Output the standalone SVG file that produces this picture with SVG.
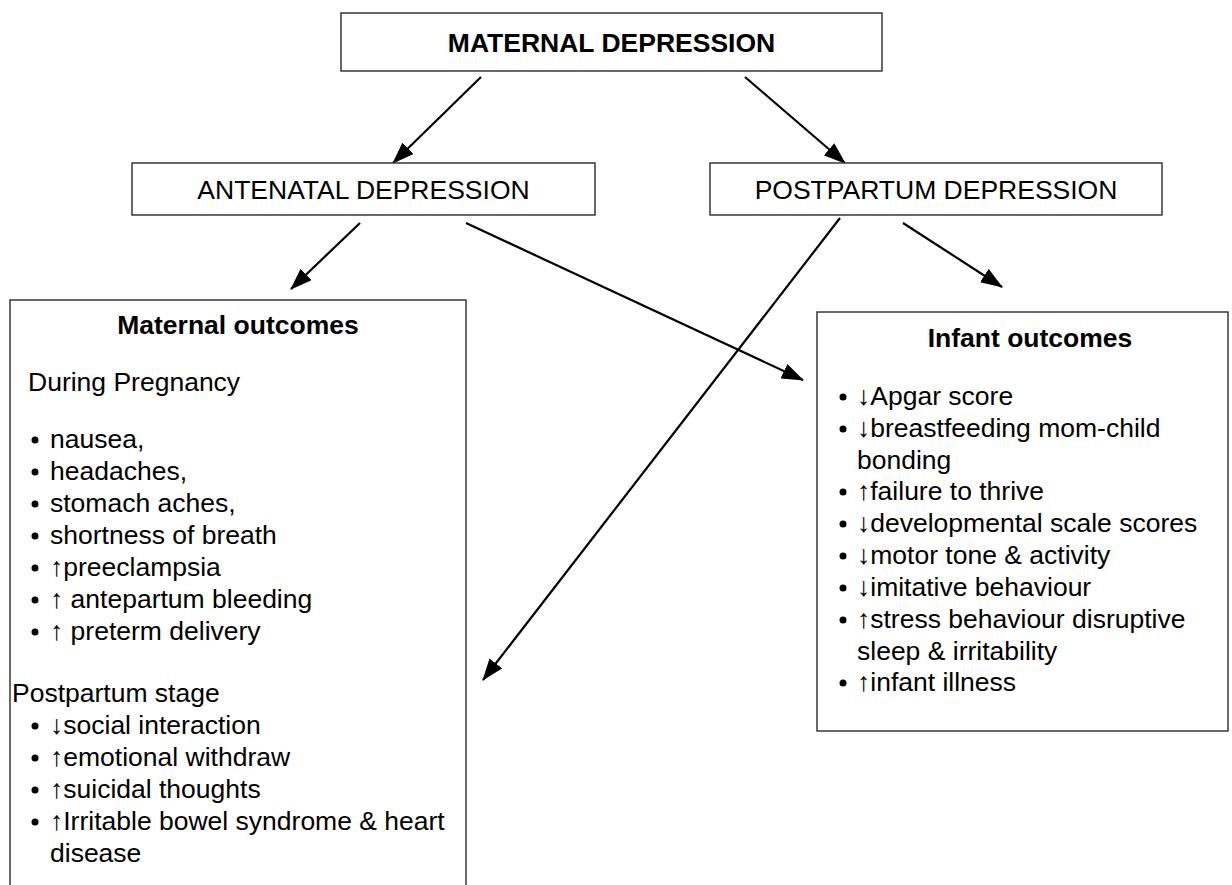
<svg xmlns="http://www.w3.org/2000/svg" width="1232" height="885" viewBox="0 0 1232 885">
  <defs>
    <marker id="arrowhead" markerUnits="userSpaceOnUse" markerWidth="22" markerHeight="16" viewBox="0 0 22 16" refX="21" refY="8" orient="auto">
      <path d="M0,0 L22,8 L0,16 z" fill="#000"/>
    </marker>
    <style>
      .box { fill: #fff; stroke: #2a2a2a; stroke-width: 1.4; }
      .link { fill: none; stroke: #000; stroke-width: 2.2; marker-end: url(#arrowhead); }
      text { font-family: "Liberation Sans", Arial, sans-serif; font-size: 26.5px; fill: #000; }
      .title { font-weight: bold; text-anchor: middle; }
      .mid { text-anchor: middle; }
      .dot { fill: #000; }
    </style>
  </defs>

  <rect width="1232" height="885" fill="#fff"/>

  <!-- connectors -->
  <g id="connectors">
    <line class="link" x1="481" y1="77" x2="393" y2="163"/>
    <line class="link" x1="745" y1="77" x2="845" y2="163"/>
    <line class="link" x1="360" y1="223" x2="291" y2="289"/>
    <line class="link" x1="466" y1="223" x2="803" y2="380"/>
    <line class="link" x1="840" y1="218" x2="483" y2="680"/>
    <line class="link" x1="903" y1="223" x2="1002" y2="287"/>
  </g>

  <!-- root node -->
  <g id="maternal-depression">
    <rect class="box" x="341" y="13" width="541" height="58"/>
    <text class="title" x="611.5" y="51.5">MATERNAL DEPRESSION</text>
  </g>

  <g id="antenatal-depression">
    <rect class="box" x="132" y="163" width="463" height="52"/>
    <text class="mid" x="363.5" y="199">ANTENATAL DEPRESSION</text>
  </g>

  <g id="postpartum-depression">
    <rect class="box" x="710" y="163" width="452" height="52"/>
    <text class="mid" x="936" y="199">POSTPARTUM DEPRESSION</text>
  </g>

  <!-- maternal outcomes panel (continues below the page edge) -->
  <g id="maternal-outcomes">
    <rect class="box" x="10" y="300" width="456" height="600"/>
    <text class="title" x="238" y="334">Maternal outcomes</text>
    <text x="28" y="391">During Pregnancy</text>
    <g class="dots">
      <circle class="dot" cx="35" cy="440" r="3.5"/>
      <circle class="dot" cx="35" cy="472" r="3.5"/>
      <circle class="dot" cx="35" cy="504" r="3.5"/>
      <circle class="dot" cx="35" cy="536" r="3.5"/>
      <circle class="dot" cx="35" cy="568" r="3.5"/>
      <circle class="dot" cx="35" cy="600" r="3.5"/>
      <circle class="dot" cx="35" cy="632" r="3.5"/>
      <circle class="dot" cx="35" cy="726" r="3.5"/>
      <circle class="dot" cx="35" cy="758" r="3.5"/>
      <circle class="dot" cx="35" cy="790" r="3.5"/>
      <circle class="dot" cx="35" cy="822" r="3.5"/>
    </g>
    <text x="50" y="448">nausea,</text>
    <text x="50" y="480">headaches,</text>
    <text x="50" y="512">stomach aches,</text>
    <text x="50" y="544">shortness of breath</text>
    <text x="50" y="576">↑preeclampsia</text>
    <text x="50" y="608">↑ antepartum bleeding</text>
    <text x="50" y="640">↑ preterm delivery</text>
    <text x="12" y="702">Postpartum stage</text>
    <text x="50" y="734">↓social interaction</text>
    <text x="50" y="766">↑emotional withdraw</text>
    <text x="50" y="798">↑suicidal thoughts</text>
    <text x="50" y="830">↑Irritable bowel syndrome &amp; heart</text>
    <text x="50" y="862">disease</text>
  </g>

  <g id="infant-outcomes">
    <rect class="box" x="817" y="312" width="411" height="419"/>
    <text class="title" x="1030" y="347">Infant outcomes</text>
    <g class="dots">
      <circle class="dot" cx="843" cy="397" r="3.5"/>
      <circle class="dot" cx="843" cy="429" r="3.5"/>
      <circle class="dot" cx="843" cy="492" r="3.5"/>
      <circle class="dot" cx="843" cy="524" r="3.5"/>
      <circle class="dot" cx="843" cy="556" r="3.5"/>
      <circle class="dot" cx="843" cy="588" r="3.5"/>
      <circle class="dot" cx="843" cy="620" r="3.5"/>
      <circle class="dot" cx="843" cy="683" r="3.5"/>
    </g>
    <text x="857" y="405">↓Apgar score</text>
    <text x="857" y="437">↓breastfeeding mom-child</text>
    <text x="857" y="469">bonding</text>
    <text x="857" y="500">↑failure to thrive</text>
    <text x="857" y="532">↓developmental scale scores</text>
    <text x="857" y="564">↓motor tone &amp; activity</text>
    <text x="857" y="596">↓imitative behaviour</text>
    <text x="857" y="628">↑stress behaviour disruptive</text>
    <text x="857" y="660">sleep &amp; irritability</text>
    <text x="857" y="691">↑infant illness</text>
  </g>
</svg>
